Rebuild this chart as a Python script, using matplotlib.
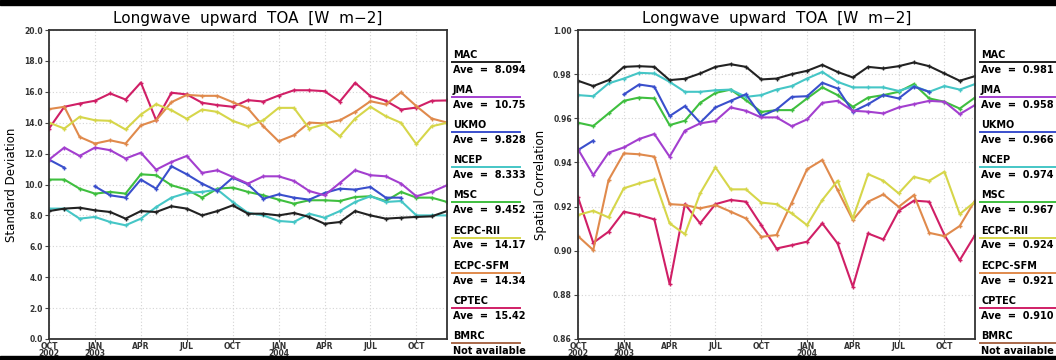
import numpy as np
import matplotlib
matplotlib.use("Agg")
import matplotlib.pyplot as plt
from matplotlib.lines import Line2D
from matplotlib.patches import Rectangle

nan = np.nan

months = list(range(27))  # Oct 2002 .. Dec 2004
tick_pos = [0, 3, 6, 9, 12, 15, 18, 21, 24]
tick_labels = ["OCT\n2002", "JAN\n2003", "APR", "JUL", "OCT", "JAN\n2004", "APR", "JUL", "OCT"]

models = ["MAC", "JMA", "UKMO", "NCEP", "MSC", "ECPC-RII", "ECPC-SFM", "CPTEC", "BMRC"]
colors = ["#222222", "#a33fcf", "#3a4fcc", "#45c6c6", "#3fbf3f", "#d6d64a", "#e08a4c", "#d01f66", "#a8684a"]
std_ave = ["8.094", "10.75", "9.828", "8.333", "9.452", "14.17", "14.34", "15.42", None]
corr_ave = ["0.981", "0.958", "0.966", "0.974", "0.967", "0.924", "0.921", "0.910", None]

# standard deviation
std_mac = [8.28, 8.44, 8.50, 8.33, 8.22, 7.79, 8.28, 8.22, 8.59, 8.44, 8.00, 8.28, 8.65, 8.11,
           8.11, 8.00, 8.16, 7.90, 7.46, 7.57, 8.28, 8.00, 7.79, 7.85, 7.90, 7.94, 8.28]
std_jma = [11.61, 12.39, 11.85, 12.39, 12.22, 11.68, 12.06, 10.96, 11.46, 11.85, 10.75, 10.92, 10.49, 10.06,
           10.53, 10.53, 10.23, 9.58, 9.30, 10.10, 10.92, 10.60, 10.53, 10.06, 9.24, 9.52, 9.95]
std_ukmo = [11.61, 11.09, nan, 9.88, 9.30, 9.15, 10.32, 9.73, 11.18, 10.66, 10.06, 9.58, 10.44, 10.01,
            9.08, 9.36, 9.15, 9.02, 9.45, 9.73, 9.67, 9.84, 9.15, 9.15, nan, nan, nan]
std_ncep = [8.44, 8.44, 7.79, 7.90, 7.57, 7.36, 7.79, 8.54, 9.15, 9.45, 9.52, 9.67, 8.87, 8.16,
            8.00, 7.64, 7.57, 8.11, 7.85, 8.28, 8.87, 9.24, 8.87, 8.93, 8.00, 8.00, 8.00]
std_msc = [10.32, 10.32, 9.73, 9.41, 9.52, 9.41, 10.66, 10.60, 9.95, 9.67, 9.15, 9.73, 9.80, 9.52,
           9.30, 9.02, 8.76, 8.98, 8.98, 8.93, 9.19, 9.24, 8.93, 9.52, 9.15, 9.15, 8.87]
std_rii = [14.01, 13.62, 14.38, 14.16, 14.12, 13.56, 14.53, 15.20, 14.81, 14.25, 14.85, 14.70, 14.12, 13.77,
           14.16, 14.96, 14.96, 13.62, 13.90, 13.12, 14.27, 15.03, 14.42, 13.99, 12.61, 13.77, 13.99]
std_sfm = [14.88, 15.03, 13.08, 12.65, 12.86, 12.65, 13.82, 14.16, 15.33, 15.80, 15.74, 15.74, 15.33, 14.92,
           13.77, 12.80, 13.19, 14.01, 13.95, 14.16, 14.70, 15.39, 15.18, 15.96, 15.07, 14.27, 14.01]
std_cptec = [13.62, 15.03, 15.24, 15.42, 15.89, 15.50, 16.60, 14.16, 15.94, 15.83, 15.29, 15.14, 15.03, 15.46,
             15.37, 15.76, 16.10, 16.10, 16.04, 15.37, 16.58, 15.72, 15.42, 14.85, 14.98, 15.42, 15.44]

# spatial correlation
corr_mac = [0.977, 0.9746, 0.9773, 0.9833, 0.9836, 0.9833, 0.9773, 0.9779, 0.9803, 0.9833, 0.9845, 0.9833,
            0.9776, 0.978, 0.980, 0.9815, 0.9842, 0.981, 0.9785, 0.9833, 0.9826, 0.9836, 0.9853, 0.9836,
            0.9803, 0.977, 0.9791]
corr_jma = [0.946, 0.9343, 0.9444, 0.9468, 0.9506, 0.9529, 0.9426, 0.9544, 0.9577, 0.9588, 0.9649, 0.9634,
            0.9604, 0.9604, 0.9564, 0.9595, 0.967, 0.9679, 0.9634, 0.963, 0.9622, 0.9649, 0.9664, 0.9679,
            0.9675, 0.9619, 0.966]
corr_ukmo = [0.9456, 0.9499, nan, 0.9708, 0.9753, 0.9743, 0.961, 0.9655, 0.958, 0.9649, 0.9679, 0.9709,
             0.961, 0.964, 0.9697, 0.970, 0.9761, 0.9735, 0.963, 0.9664, 0.9705, 0.969, 0.9743, 0.972,
             nan, nan, nan]
corr_ncep = [0.9705, 0.970, 0.9758, 0.978, 0.9806, 0.9803, 0.9765, 0.972, 0.972, 0.9727, 0.973, 0.9697,
             0.9705, 0.973, 0.9746, 0.978, 0.981, 0.9765, 0.974, 0.974, 0.974, 0.9724, 0.9746, 0.972,
             0.9746, 0.973, 0.9755]
corr_msc = [0.958, 0.9565, 0.9622, 0.9679, 0.9694, 0.969, 0.9569, 0.9589, 0.967, 0.9715, 0.973, 0.9682,
            0.9629, 0.9637, 0.9637, 0.969, 0.974, 0.9705, 0.9652, 0.9694, 0.9705, 0.972, 0.9755, 0.969,
            0.9675, 0.9644, 0.9694]
corr_rii = [0.9162, 0.9181, 0.9151, 0.9283, 0.9305, 0.9323, 0.9124, 0.9075, 0.926, 0.9378, 0.9278, 0.9278,
            0.9218, 0.9211, 0.9169, 0.9116, 0.923, 0.9317, 0.9146, 0.9347, 0.9317, 0.926, 0.9335, 0.9317,
            0.9358, 0.9166, 0.9222]
corr_sfm = [0.9066, 0.9003, 0.932, 0.9441, 0.9437, 0.9426, 0.9211, 0.9207, 0.9192, 0.9207, 0.9177, 0.9146,
            0.9063, 0.9071, 0.9218, 0.9369, 0.9411, 0.9275, 0.9139, 0.9222, 0.9255, 0.9199, 0.9252, 0.9081,
            0.9066, 0.9112, 0.9227]
corr_cptec = [0.9242, 0.9036, 0.9086, 0.9177, 0.9162, 0.9142, 0.8849, 0.9211, 0.9124, 0.9211, 0.923, 0.9222,
              0.9116, 0.901, 0.9025, 0.9041, 0.9124, 0.9033, 0.8837, 0.9078, 0.9051, 0.9181, 0.9227, 0.9222,
              0.9071, 0.8957, 0.9071]

std_series = [std_mac, std_jma, std_ukmo, std_ncep, std_msc, std_rii, std_sfm, std_cptec]
corr_series = [corr_mac, corr_jma, corr_ukmo, corr_ncep, corr_msc, corr_rii, corr_sfm, corr_cptec]

W, H = 1056, 360
fig = plt.figure(figsize=(W / 100, H / 100), dpi=100)


def px_box(x0, y0, x1, y1):
    return [x0 / W, 1 - y1 / H, (x1 - x0) / W, (y1 - y0) / H]


def draw_panel(rect, series, ylim, yticks, yfmt, ylabel):
    ax = fig.add_axes(rect)
    # draw in reverse so MAC ends up on top
    for i in range(len(series) - 1, -1, -1):
        ax.plot(months, series[i], color=colors[i], lw=1.5, marker="+",
                markersize=3.5, markeredgewidth=1.0)
    ax.set_xlim(0, 26)
    ax.set_ylim(*ylim)
    ax.set_yticks(yticks)
    ax.set_yticklabels([yfmt.format(v) for v in yticks])
    ax.set_xticks(tick_pos)
    ax.set_xticklabels(tick_labels, linespacing=0.75)
    ax.tick_params(labelsize=5.5, length=3, width=0.8, color="#444444", pad=1.5)
    ax.tick_params(axis="x", length=2, pad=0)
    for lab in ax.get_xticklabels() + ax.get_yticklabels():
        lab.set_fontweight("bold")
        lab.set_color("#333333")
    ax.grid(True, color="#d4d4d4", linestyle=(0, (1, 2)), linewidth=0.8)
    for sp in ax.spines.values():
        sp.set_linewidth(1.3)
        sp.set_color("#333333")
    ax.set_ylabel(ylabel, fontsize=8.5, labelpad=4)
    ax.set_title("Longwave  upward  TOA  [W  m\u22122]", fontsize=11, pad=5)
    return ax


draw_panel(px_box(49, 30, 447, 339), std_series, (0, 20), np.arange(0, 20.1, 2.0),
           "{:.1f}", "Standard Deviation")
draw_panel(px_box(578, 30, 975, 339), corr_series, (0.86, 1.0), np.round(np.arange(0.86, 1.001, 0.02), 2),
           "{:.2f}", "Spatial Correlation")


def draw_legend(x0, x1, aves):
    for i, name in enumerate(models):
        y_line = 62 + i * 35.1
        fig.text(x0 / W, 1 - (y_line - 4) / H, name, fontsize=7, fontweight="bold",
                 va="baseline", ha="left")
        fig.add_artist(Line2D([(x0 - 1) / W, x1 / W], [1 - y_line / H] * 2,
                              color=colors[i], lw=1.4))
        label = "Not available" if aves[i] is None else "Ave  =  " + aves[i]
        fig.text(x0 / W, 1 - (y_line + 11) / H, label, fontsize=7, fontweight="bold",
                 va="baseline", ha="left")


draw_legend(453, 520, std_ave)
draw_legend(981, 1056, corr_ave)

# black bands along the top and bottom edges
fig.add_artist(Rectangle((0, 1 - 5 / H), 1, 5 / H, color="black", transform=fig.transFigure))
fig.add_artist(Rectangle((0, 0), 1, 4 / H, color="black", transform=fig.transFigure))

fig.savefig("out.png", dpi=100)
